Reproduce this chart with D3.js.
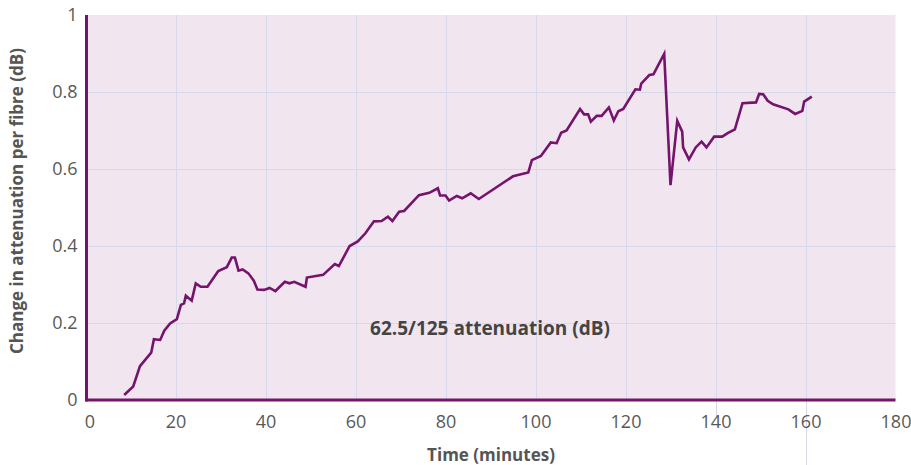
<!DOCTYPE html>
<html>
<head>
<meta charset="utf-8">
<script src="https://cdn.jsdelivr.net/npm/d3@7"></script>
<style>
  body { margin: 0; background: #fff; }
  text { font-family: "Open Sans", sans-serif; }
</style>
</head>
<body>
<div id="graph"></div>
<script>
var WIDTH = 911, HEIGHT = 465;

// minutes
var times = [8.6, 10.6, 12.1, 14.6, 15.2, 16.6, 17.5, 18.8, 20.3, 21.2, 21.9, 22.3, 23.6, 24.5, 25.6, 27.1,
  29.5, 31.4, 32.5, 33.2, 34.0, 34.9, 36.2, 37.4, 38.2, 39.7, 40.9, 42.2, 44.3, 45.3, 46.4, 48.9, 49.2,
  52.8, 55.4, 56.3, 58.7, 60.5, 62.2, 64.1, 65.8, 67.2, 68.2, 69.7, 70.8, 74.1, 76.4, 78.3, 78.8, 80.0,
  80.8, 82.5, 83.7, 85.6, 87.4, 95.0, 98.4, 99.2, 101.2, 103.4, 104.7, 105.7, 106.9, 109.9, 110.8, 111.7,
  112.3, 113.6, 114.7, 116.3, 117.4, 118.4, 119.5, 122.2, 123.2, 123.5, 125.3, 126.2, 128.6, 130.0, 131.5,
  132.6, 132.8, 134.1, 135.6, 136.9, 138.0, 139.7, 141.5, 142.7, 144.3, 146.0, 149.0, 149.7, 150.6, 151.6,
  152.8, 156.2, 157.7, 159.3, 159.7, 161.4];
// change in attenuation (dB)
var atten = [0.013, 0.035, 0.088, 0.123, 0.158, 0.156, 0.18, 0.199, 0.21, 0.247, 0.251, 0.271, 0.258, 0.303, 0.294, 0.294,
  0.335, 0.345, 0.37, 0.37, 0.336, 0.339, 0.329, 0.31, 0.287, 0.286, 0.291, 0.283, 0.307, 0.303, 0.307, 0.294, 0.318,
  0.325, 0.353, 0.348, 0.4, 0.412, 0.433, 0.464, 0.465, 0.476, 0.465, 0.489, 0.491, 0.532, 0.538, 0.55, 0.531, 0.531,
  0.518, 0.53, 0.524, 0.537, 0.522, 0.581, 0.591, 0.623, 0.634, 0.669, 0.667, 0.694, 0.7, 0.756, 0.742, 0.742,
  0.723, 0.738, 0.738, 0.76, 0.726, 0.75, 0.756, 0.807, 0.806, 0.822, 0.844, 0.846, 0.899, 0.558, 0.725,
  0.697, 0.656, 0.625, 0.656, 0.671, 0.656, 0.684, 0.684, 0.693, 0.703, 0.771, 0.773, 0.795, 0.794, 0.777,
  0.768, 0.755, 0.743, 0.751, 0.775, 0.788];

var xTicks = [0, 20, 40, 60, 80, 100, 120, 140, 160, 180];
var yTicks = [0, 0.2, 0.4, 0.6, 0.8, 1];
var seriesLabel = "62.5/125 attenuation (dB)";

var purple = "#76146c";

var svg = d3.select("#graph").append("svg").attr("width", WIDTH).attr("height", HEIGHT);

var x = d3.scaleLinear().domain([0, 180]).range([85.5, 895.5]);
var y = d3.scaleLinear().domain([0, 1]).range([400, 15]);

// background
svg.append("rect")
  .attr("x", x(0)).attr("y", y(1))
  .attr("width", x(180) - x(0)).attr("height", y(0) - y(1))
  .attr("fill", "#f1e6f0");

// grid
var grid = svg.append("g").attr("stroke", "#d6d9ea").attr("stroke-width", 1);
grid.selectAll(".gx").data(xTicks.filter(function(d) { return d > 0 && d < 180; }))
  .enter().append("line")
  .attr("x1", function(d) { return Math.round(x(d)) + 0.5; })
  .attr("x2", function(d) { return Math.round(x(d)) + 0.5; })
  .attr("y1", y(1))
  .attr("y2", function(d) { return d == 160 ? HEIGHT : (d == 140 ? 416 : y(0)); });
grid.selectAll(".gy").data(yTicks.filter(function(d) { return d > 0 && d < 1; }))
  .enter().append("line")
  .attr("x1", x(0)).attr("x2", x(180))
  .attr("y1", function(d) { return Math.round(y(d)) + 0.5; })
  .attr("y2", function(d) { return Math.round(y(d)) + 0.5; });

// axes
var xAxis = d3.axisBottom(x).tickValues(xTicks).tickSize(0).tickPadding(15)
  .tickFormat(d3.format("d"));
var gx = svg.append("g").attr("transform", "translate(0," + y(0) + ")").call(xAxis);
gx.select(".domain").remove();
gx.selectAll("text").attr("font-size", 18).attr("fill", "#595959")
  .attr("font-family", "Open Sans, sans-serif")
  .attr("dx", function(d) { return d == 0 ? 4 : 0; });

var yAxis = d3.axisLeft(y).tickValues(yTicks).tickSize(0).tickPadding(8)
  .tickFormat(function(d) { return d == 0 || d == 1 ? d3.format("d")(d) : d3.format(".1f")(d); });
var gy = svg.append("g").attr("transform", "translate(" + x(0) + ",0)").call(yAxis);
gy.select(".domain").remove();
gy.selectAll("text").attr("font-size", 18).attr("fill", "#595959")
  .attr("font-family", "Open Sans, sans-serif");

svg.append("line")
  .attr("x1", x(0) + 1).attr("x2", x(0) + 1)
  .attr("y1", y(1)).attr("y2", y(0) + 1.5)
  .attr("stroke", purple).attr("stroke-width", 3);
svg.append("line")
  .attr("x1", x(0)).attr("x2", x(180))
  .attr("y1", y(0)).attr("y2", y(0))
  .attr("stroke", purple).attr("stroke-width", 3);

// series
var pts = times.map(function(t, i) { return [t, atten[i]]; });
var line = d3.line()
  .x(function(d) { return x(d[0]); })
  .y(function(d) { return y(d[1]); });
svg.append("path")
  .datum(pts)
  .attr("d", line)
  .attr("fill", "none")
  .attr("stroke", purple)
  .attr("stroke-width", 2.6)
  .attr("stroke-linejoin", "miter");

svg.append("text")
  .attr("x", 490).attr("y", 335)
  .attr("text-anchor", "middle")
  .attr("font-size", 19).attr("font-weight", "bold").attr("fill", "#444")
  .text(seriesLabel);

// axis titles
svg.append("text")
  .attr("x", 491).attr("y", 461)
  .attr("text-anchor", "middle")
  .attr("font-size", 17).attr("font-weight", "bold").attr("fill", "#555")
  .text("Time (minutes)");
svg.append("text")
  .attr("transform", "translate(23,201) rotate(-90)")
  .attr("text-anchor", "middle")
  .attr("font-size", 17).attr("font-weight", "bold").attr("fill", "#555")
  .text("Change in attenuation per fibre (dB)");
</script>
</body>
</html>
